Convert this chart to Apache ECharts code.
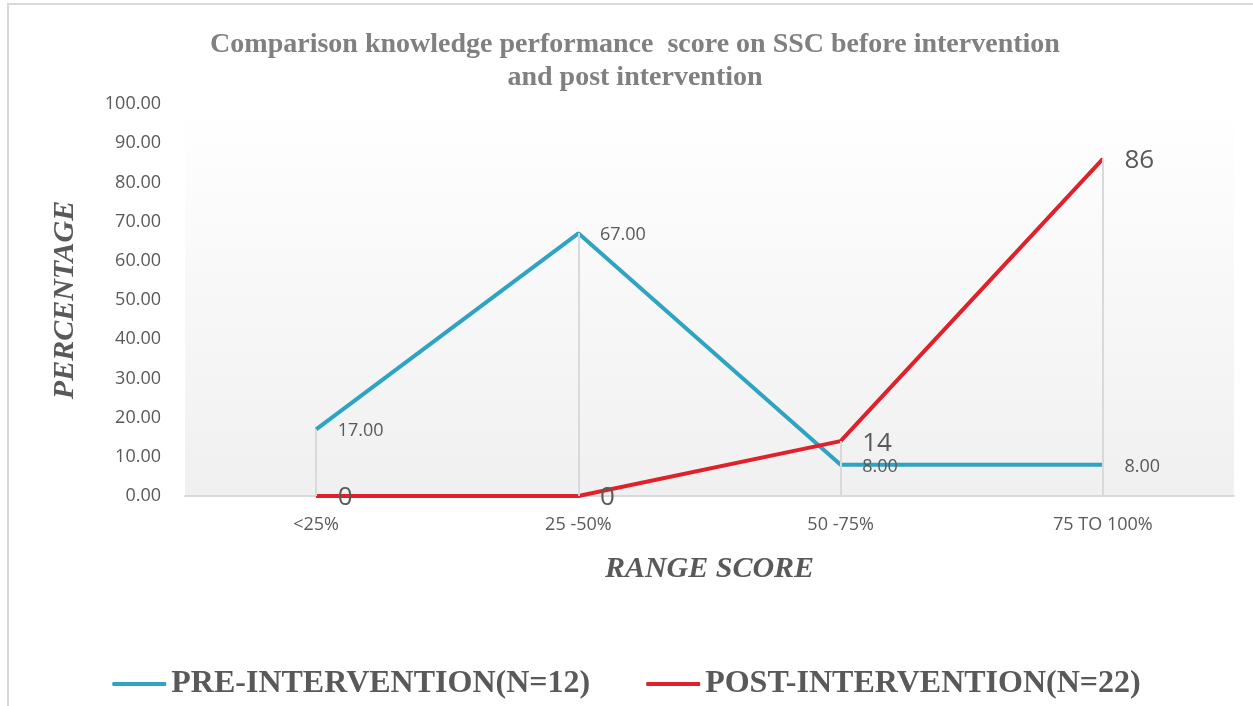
<!DOCTYPE html>
<html>
<head>
<meta charset="utf-8">
<script src="https://cdn.jsdelivr.net/npm/echarts@6/dist/echarts.min.js"></script>
<style>
  html, body { margin: 0; padding: 0; background: #fff; }
  #frame { position: absolute; left: 7px; top: 3px; width: 1250px; height: 710px; border: 2px solid #d9d9d9; box-sizing: border-box; }
  #chart { position: absolute; left: 0; top: 0; width: 1253px; height: 706px; }
</style>
</head>
<body>
<div id="frame"></div>
<div id="chart"></div>
<script>
var categories = ['<25%', '25 -50%', '50 -75%', '75 TO 100%'];
var preValues = [17, 67, 8, 8];
var postValues = [0, 0, 14, 86];
var preName = 'PRE-INTERVENTION(N=12)';
var postName = 'POST-INTERVENTION(N=22)';

var chartDom = document.getElementById('chart');
var c = echarts.init(chartDom);

// vertical drop lines from the higher point down to the axis
var dropLines = categories.map(function (cat, i) {
  return [
    { coord: [i, Math.max(preValues[i], postValues[i])] },
    { coord: [i, 0] }
  ];
});

var textGray = '#595959';

var option = {
  title: {
    text: 'Comparison knowledge performance  score on SSC before intervention\nand post intervention',
    left: 630,
    textAlign: 'center',
    top: 23,
    textStyle: {
      fontFamily: 'Liberation Serif',
      fontWeight: 'bold',
      fontSize: 28,
      lineHeight: 33,
      color: '#808080'
    }
  },
  legend: {
    bottom: 1,
    left: 'center',
    itemWidth: 54,
    itemHeight: 4,
    itemGap: 56,
    icon: 'roundRect',
    textStyle: {
      fontFamily: 'Liberation Serif',
      fontWeight: 'bold',
      fontSize: 32,
      color: textGray
    },
    data: [preName, postName]
  },
  grid: {
    left: 185,
    right: 19,
    top: 104,
    bottom: 210,
    show: true,
    borderWidth: 0,
    backgroundColor: {
      type: 'linear', x: 0, y: 0, x2: 0, y2: 1,
      colorStops: [
        { offset: 0, color: '#ffffff' },
        { offset: 1, color: '#f0f0f0' }
      ]
    }
  },
  xAxis: {
    type: 'category',
    data: categories,
    name: 'RANGE SCORE',
    nameLocation: 'middle',
    nameGap: 58,
    nameTextStyle: {
      fontFamily: 'Liberation Serif',
      fontWeight: 'bold',
      fontStyle: 'italic',
      fontSize: 30,
      color: textGray
    },
    axisLine: { lineStyle: { color: '#d9d9d9', width: 2 } },
    axisTick: { show: false },
    axisLabel: {
      fontFamily: 'Open Sans',
      fontSize: 18,
      color: textGray,
      margin: 20
    }
  },
  yAxis: {
    type: 'value',
    min: 0,
    max: 100,
    interval: 10,
    name: 'PERCENTAGE',
    nameLocation: 'middle',
    nameGap: 105,
    nameRotate: 90,
    nameTextStyle: {
      fontFamily: 'Liberation Serif',
      fontWeight: 'bold',
      fontStyle: 'italic',
      fontSize: 30,
      color: textGray
    },
    axisLine: { show: false },
    axisTick: { show: false },
    splitLine: { show: false },
    axisLabel: {
      fontFamily: 'Open Sans',
      fontSize: 18,
      color: textGray,
      margin: 24,
      formatter: function (v) { return v.toFixed(2); }
    }
  },
  series: [
    {
      name: preName,
      type: 'line',
      data: preValues,
      symbol: 'circle',
      symbolSize: 1,
      showSymbol: true,
      z: 3,
      lineStyle: { color: '#2fa4c2', width: 4 },
      itemStyle: { color: '#2fa4c2' },
      label: {
        show: true,
        position: 'right',
        distance: 21,
        offset: [0, 2],
        fontFamily: 'Open Sans',
        fontSize: 18,
        color: textGray,
        formatter: function (p) { return p.value.toFixed(2); }
      },
      markLine: {
        silent: true,
        symbol: 'none',
        label: { show: false },
        lineStyle: { color: '#d9d9d9', width: 2, type: 'solid' },
        data: dropLines
      }
    },
    {
      name: postName,
      type: 'line',
      data: postValues,
      symbol: 'circle',
      symbolSize: 1,
      showSymbol: true,
      z: 4,
      lineStyle: { color: '#e0202b', width: 4 },
      itemStyle: { color: '#e0202b' },
      label: {
        show: true,
        position: 'right',
        distance: 21,
        offset: [0, 2],
        fontFamily: 'Open Sans',
        fontSize: 26,
        color: textGray
      }
    }
  ]
};

c.setOption(option);
</script>
</body>
</html>
